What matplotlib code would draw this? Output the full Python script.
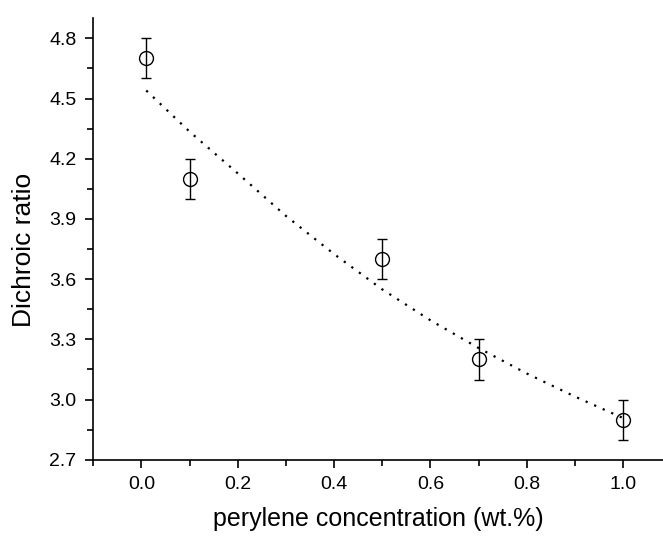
import matplotlib
matplotlib.use("Agg")
import matplotlib.pyplot as plt
from matplotlib.ticker import MultipleLocator

plt.rcParams['font.family'] = ['Liberation Sans', 'DejaVu Sans']

# Measured data
conc = [0.01, 0.1, 0.5, 0.7, 1.0]
ratio = [4.7, 4.1, 3.7, 3.2, 2.9]
ratio_err = [0.1, 0.1, 0.1, 0.1, 0.1]

# Fit curve
fit_x = [0.01, 0.1, 0.2, 0.3, 0.4, 0.5, 0.6, 0.7, 0.8, 0.9, 1.0]
fit_y = [4.54, 4.335, 4.127, 3.915, 3.725, 3.549, 3.395, 3.257, 3.13, 3.015, 2.908]

xticks = [0.0, 0.2, 0.4, 0.6, 0.8, 1.0]
yticks = [2.7, 3.0, 3.3, 3.6, 3.9, 4.2, 4.5, 4.8]

fig = plt.figure(figsize=(6.63, 5.37), dpi=100)
ax = fig.add_axes([0.1407, 0.1438, 1.0 - 0.1407, 0.966 - 0.1438])

ax.plot(fit_x, fit_y, linestyle=(0, (1, 3.2)), color='black', linewidth=1.6)
ax.errorbar(conc, ratio, yerr=ratio_err, fmt='o', markersize=10,
            markerfacecolor='none', markeredgecolor='black', markeredgewidth=1.0,
            ecolor='black', elinewidth=1.0, capsize=3.5, capthick=1.0)

ax.set_xlim(-0.1, 1.083)
ax.set_ylim(2.7, 4.9)
ax.set_xticks(xticks)
ax.set_yticks(yticks)
ax.set_xticklabels([f"{v:.1f}" for v in xticks])
ax.set_yticklabels([f"{v:.1f}" for v in yticks])
ax.xaxis.set_minor_locator(MultipleLocator(0.1))
ax.yaxis.set_minor_locator(MultipleLocator(0.15))

for s in ['top', 'right']:
    ax.spines[s].set_visible(False)
for s in ['left', 'bottom']:
    ax.spines[s].set_linewidth(1.2)

ax.tick_params(which='major', direction='out', length=6, width=1.2, labelsize=14, pad=6)
ax.tick_params(which='minor', direction='out', length=4, width=1.2)

ax.set_xlabel('perylene concentration (wt.%)', fontsize=18, labelpad=10)
ax.set_ylabel('Dichroic ratio', fontsize=19)
ax.yaxis.set_label_coords(-0.1, 0.475)

fig.savefig('out.png', dpi=100)
